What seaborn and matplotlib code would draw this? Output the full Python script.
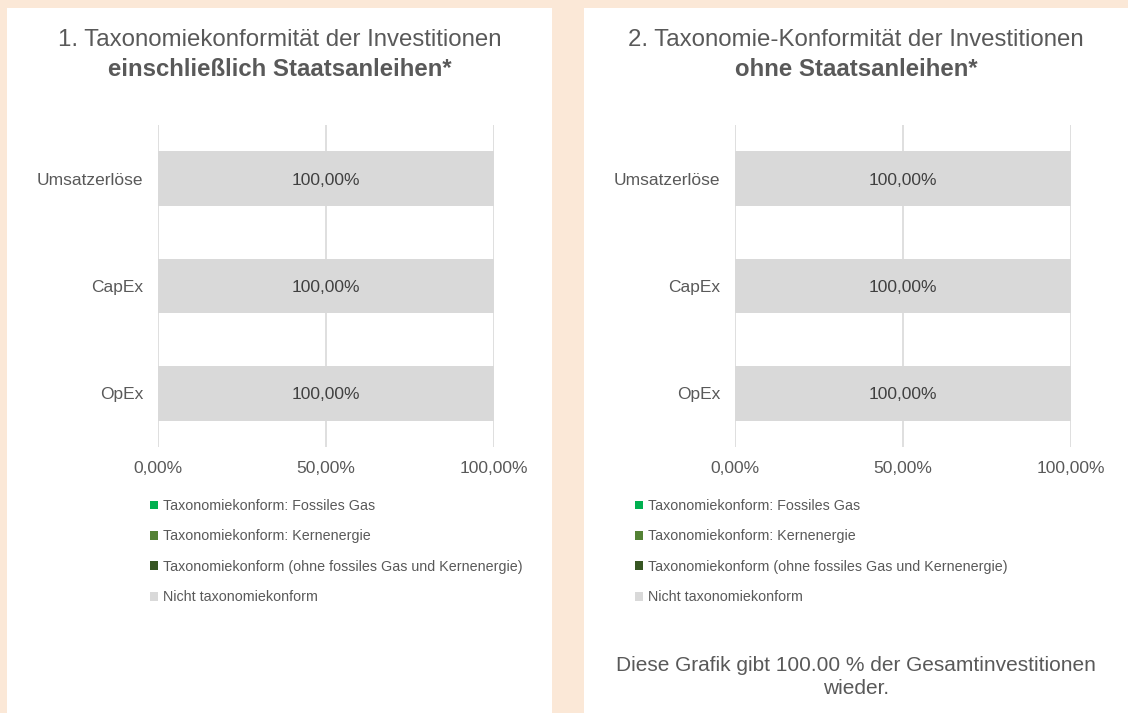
import matplotlib
matplotlib.use("Agg")
import matplotlib.pyplot as plt
import matplotlib.patches as mpatches
from matplotlib.ticker import FuncFormatter
import seaborn as sns
import numpy as np

categories = ["Umsatzerlöse", "CapEx", "OpEx"]
series_names = [
    "Taxonomiekonform: Fossiles Gas",
    "Taxonomiekonform: Kernenergie",
    "Taxonomiekonform (ohne fossiles Gas und Kernenergie)",
    "Nicht taxonomiekonform",
]
# chart 1: including sovereign bonds
incl_gas = [0.0, 0.0, 0.0]
incl_nuclear = [0.0, 0.0, 0.0]
incl_aligned = [0.0, 0.0, 0.0]
incl_not = [100.0, 100.0, 100.0]
# chart 2: excluding sovereign bonds
excl_gas = [0.0, 0.0, 0.0]
excl_nuclear = [0.0, 0.0, 0.0]
excl_aligned = [0.0, 0.0, 0.0]
excl_not = [100.0, 100.0, 100.0]

x_ticks = [0, 50, 100]
title1_a = "1. Taxonomiekonformität der Investitionen"
title1_b = "einschließlich Staatsanleihen*"
title2_a = "2. Taxonomie-Konformität der Investitionen"
title2_b = "ohne Staatsanleihen*"
footnote = "Diese Grafik gibt 100.00 % der Gesamtinvestitionen\nwieder."

colors = ["#00B050", "#548235", "#375623", "#D9D9D9"]
text_col = "#595959"
beige = "#FBE8D7"

sns.set_theme(style="white")
plt.rcParams["font.family"] = ["Liberation Sans", "DejaVu Sans"]

W, H = 1128, 713
fig = plt.figure(figsize=(W / 100, H / 100), dpi=100, facecolor=beige)

def fx(px):
    return px / W

def fy(py):
    return 1 - py / H

# white panels
for (x0, x1) in [(7, 552), (584, 1128)]:
    fig.patches.append(mpatches.Rectangle((fx(x0), 0), fx(x1 - x0), fy(7.5),
                                          transform=fig.transFigure, facecolor="white",
                                          edgecolor="none", zorder=-5))

def draw_panel(left_px, data, title_a, title_b, center_px, legend_x_px):
    ax = fig.add_axes([fx(left_px), fy(447), fx(336), (447 - 125) / H])
    ax.set_facecolor("white")
    cum = np.zeros(len(categories))
    for name, vals, col in zip(series_names, data, colors):
        sns.barplot(x=list(vals), y=categories, orient="h", color=col, ax=ax,
                    width=0.51, left=list(cum), saturation=1, linewidth=0,
                    label=name, legend=False)
        for i, v in enumerate(vals):
            if v > 0:
                ax.text(cum[i] + v / 2, i, f"{v:.2f}%".replace(".", ","),
                        ha="center", va="center_baseline", fontsize=12.5,
                        color="#404040")
        cum = cum + np.array(vals)
    ax.set_xlim(0, 100)
    ax.set_ylim(2.5, -0.5)
    ax.set_xticks(x_ticks)
    ax.xaxis.set_major_formatter(FuncFormatter(lambda v, p: f"{v:.2f}%".replace(".", ",")))
    ax.grid(axis="x", color="#D9D9D9", linewidth=1.2)
    ax.set_axisbelow(True)
    for s in ax.spines.values():
        s.set_visible(False)
    ax.tick_params(axis="both", length=0, labelsize=12.5, colors=text_col)
    ax.tick_params(axis="x", pad=10)
    ax.tick_params(axis="y", pad=10.5)
    ax.set_xlabel("")
    ax.set_ylabel("")
    fig.text(fx(center_px), fy(38), title_a, ha="center", va="center_baseline",
             fontsize=17.3, color=text_col)
    fig.text(fx(center_px), fy(66.5), title_b, ha="center", va="center_baseline",
             fontsize=17.3, color=text_col, fontweight="bold")
    handles = [mpatches.Patch(facecolor=c, edgecolor="none", label=n)
               for n, c in zip(series_names, colors)]
    fig.legend(handles=handles, loc="upper left",
               bbox_to_anchor=(fx(legend_x_px), fy(499)), frameon=False,
               fontsize=10.3, labelcolor=text_col, handlelength=0.58,
               handleheight=0.58, handletextpad=0.32, labelspacing=1.15,
               borderaxespad=0, borderpad=0)
    return ax

draw_panel(158, [incl_gas, incl_nuclear, incl_aligned, incl_not],
           title1_a, title1_b, 280, 150)
draw_panel(735, [excl_gas, excl_nuclear, excl_aligned, excl_not],
           title2_a, title2_b, 856, 635)

fig.text(fx(856), fy(677), footnote, ha="center", va="center",
         fontsize=15, color=text_col, linespacing=1.3)

fig.savefig("out.png", dpi=100, facecolor=beige)
